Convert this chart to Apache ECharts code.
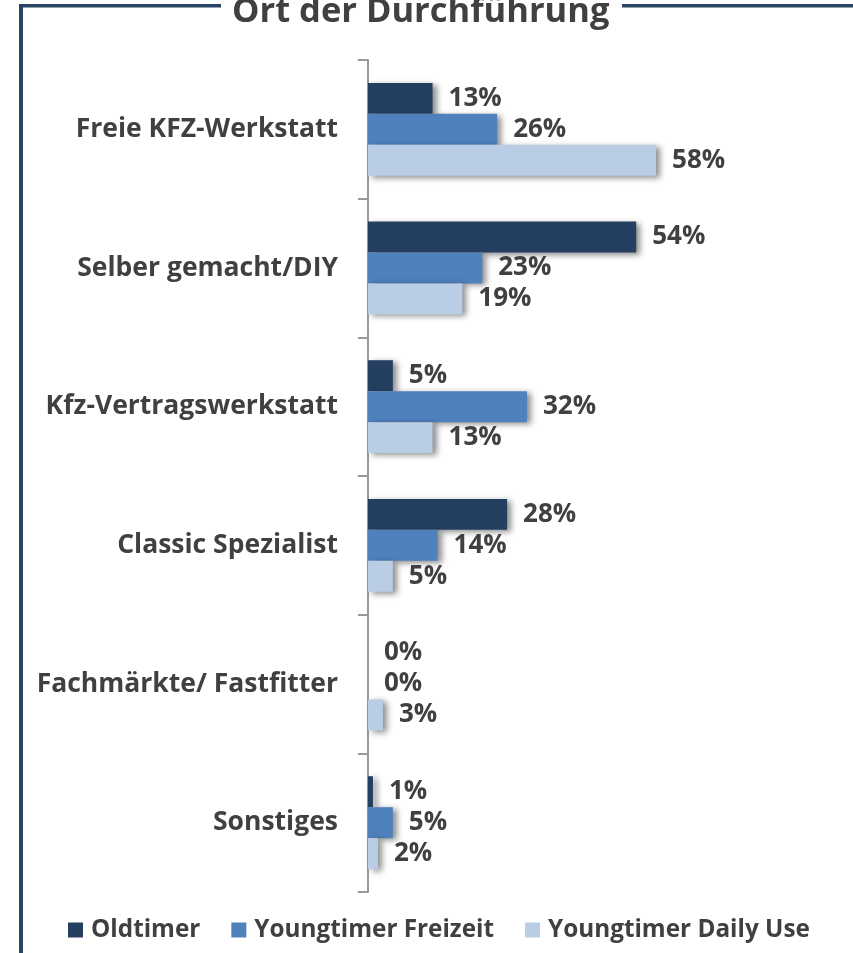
<!DOCTYPE html>
<html>
<head>
<meta charset="utf-8">
<script src="https://cdn.jsdelivr.net/npm/echarts@6/dist/echarts.min.js"></script>
<style>
html,body{margin:0;padding:0;background:#fff;}
#chart{width:853px;height:953px;}
</style>
</head>
<body>
<div id="chart"></div>
<script>
const categories = ["Freie KFZ-Werkstatt", "Selber gemacht/DIY", "Kfz-Vertragswerkstatt", "Classic Spezialist", "Fachmärkte/ Fastfitter", "Sonstiges"];
const seriesNames = ["Oldtimer", "Youngtimer Freizeit", "Youngtimer Daily Use"];
const oldtimer = [13, 54, 5, 28, 0, 1];
const youngFreizeit = [26, 23, 32, 14, 0, 5];
const youngDaily = [58, 19, 13, 5, 3, 2];
const titleText = "Ort der Durchführung";

const colors = ["#243F60", "#4F81BD", "#B9CDE5"];
const FONT = "'Open Sans', sans-serif";
const TXT = "#404040";

const chart = echarts.init(document.getElementById('chart'), null, {renderer: 'canvas'});

function mkSeries(name, data, color) {
  return {
    name: name,
    type: 'bar',
    data: data,
    barCategoryGap: '33%',
    barGap: '0%',
    itemStyle: {
      color: color,
      shadowColor: 'rgba(0,0,0,0.45)',
      shadowBlur: 6,
      shadowOffsetX: 4,
      shadowOffsetY: 2
    },
    label: {
      show: true,
      position: 'right',
      distance: 16,
      formatter: '{c}%',
      fontFamily: FONT,
      fontWeight: 'bold',
      fontSize: 26,
      color: TXT
    },
    emphasis: {disabled: true},
    animation: false
  };
}

chart.setOption({
  animation: false,
  backgroundColor: '#ffffff',
  grid: {left: 368, top: 60, width: 298, height: 832, containLabel: false},
  xAxis: {
    type: 'value', min: 0, max: 60, show: false,
    splitLine: {show: false}
  },
  yAxis: {
    type: 'category',
    data: categories,
    inverse: true,
    axisLine: {show: true, lineStyle: {color: '#9A9A9A', width: 2}},
    axisTick: {show: true, length: 10, lineStyle: {color: '#9A9A9A', width: 2}},
    axisLabel: {
      margin: 30,
      fontFamily: FONT,
      fontWeight: 'bold',
      fontSize: 26.5,
      color: TXT
    }
  },
  legend: {
    left: 63,
    top: 913,
    itemWidth: 15,
    itemHeight: 15,
    itemGap: 31,
    icon: 'rect',
    data: seriesNames,
    textStyle: {fontFamily: FONT, fontWeight: 'bold', fontSize: 24.3, color: TXT, padding: [0, 0, 0, 3]}
  },
  graphic: [
    {type: 'rect', shape: {x: 19, y: 4, width: 4, height: 960}, style: {fill: '#2A4466'}, silent: true},
    {type: 'rect', shape: {x: 19, y: 4, width: 202, height: 3.5}, style: {fill: '#2A4466'}, silent: true},
    {type: 'rect', shape: {x: 622, y: 4, width: 240, height: 3.5}, style: {fill: '#2A4466'}, silent: true},
    {type: 'text', left: 232, top: -5, style: {text: titleText, font: "bold 34.5px 'Open Sans', sans-serif", fill: TXT}, silent: true}
  ],
  series: [
    mkSeries(seriesNames[0], oldtimer, colors[0]),
    mkSeries(seriesNames[1], youngFreizeit, colors[1]),
    mkSeries(seriesNames[2], youngDaily, colors[2])
  ]
});
</script>
</body>
</html>
